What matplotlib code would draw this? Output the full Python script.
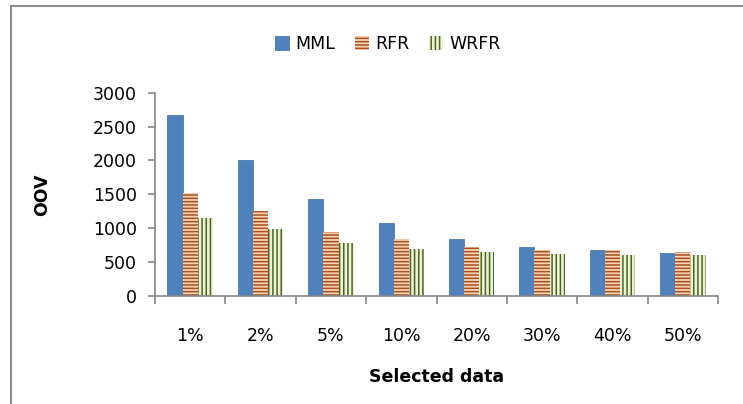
import matplotlib.pyplot as plt
import matplotlib.patches as mpatches
import numpy as np

categories = ["1%", "2%", "5%", "10%", "20%", "30%", "40%", "50%"]
mml = [2670, 2000, 1425, 1080, 840, 720, 675, 630]
rfr = [1525, 1255, 950, 835, 720, 680, 680, 645]
wrfr = [1145, 995, 780, 700, 650, 625, 610, 605]
yticks = [0, 500, 1000, 1500, 2000, 2500, 3000]

FS = 12.5
AXIS_GRAY = "#868686"
plt.rcParams["font.family"] = ["DejaVu Sans"]
plt.rcParams["hatch.linewidth"] = 1.1

fig = plt.figure(figsize=(7.43, 4.04), dpi=100, facecolor="white")
ax = fig.add_axes([155 / 743, 1 - 296 / 404, 563 / 743, (296 - 92.7) / 404])

x = np.arange(len(categories)) + 0.5
w = 0.215
ax.bar(x - w, mml, w, color="#4F81BD", edgecolor="#3A6BA5", linewidth=0.5, label="MML")
ax.bar(x, rfr, w, color="#F6D3B4", edgecolor="#A9501E", hatch="-----", linewidth=0, label="RFR")
ax.bar(x + w, wrfr, w, color="#EAF3D2", edgecolor="#4F6228", hatch="||||", linewidth=0, label="WRFR")

ax.set_xlim(0, len(categories))
ax.set_ylim(0, 3000)
ax.set_yticks(yticks)
ax.set_yticklabels([str(v) for v in yticks], fontsize=FS)
ax.set_xticks(np.arange(len(categories) + 1))
ax.set_xticklabels([])
ax.set_xticks(x, minor=True)
ax.set_xticklabels(categories, minor=True, fontsize=FS)
ax.tick_params(axis="x", which="major", length=6, color=AXIS_GRAY, width=1.2, direction="out")
ax.tick_params(axis="x", which="minor", length=0, pad=22)
ax.tick_params(axis="y", length=5, color=AXIS_GRAY, width=1.2, pad=8)
for s in ("top", "right"):
    ax.spines[s].set_visible(False)
for s in ("left", "bottom"):
    ax.spines[s].set_color(AXIS_GRAY)
    ax.spines[s].set_linewidth(1.2)

ax.set_ylabel("OOV", fontsize=FS, fontweight="bold", labelpad=30)
fig.text(437 / 743, 1 - 377 / 404, "Selected data", ha="center", va="center", fontsize=FS, fontweight="bold")

leg = fig.legend(loc="center", bbox_to_anchor=(388 / 743, 1 - 44 / 404), ncol=3, frameon=False,
                 fontsize=FS, handlelength=0.8, handleheight=0.8, handletextpad=0.4, columnspacing=1.1)

border = mpatches.Rectangle((11 / 743, -0.1), 1.2, 1 - 6 / 404 + 0.1, transform=fig.transFigure,
                            fill=False, edgecolor="#8C8C8C", linewidth=1.5)
fig.patches.append(border)

fig.savefig("out.png", dpi=100, facecolor="white")
